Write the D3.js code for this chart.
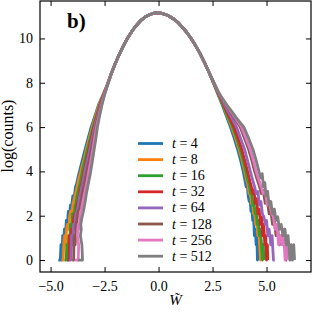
<!DOCTYPE html>
<html>
<head>
<meta charset="utf-8">
<script src="https://cdn.jsdelivr.net/npm/d3@7"></script>
<style>
  body { margin: 0; background: #fff; }
  svg { display: block; font-family: "Liberation Serif", serif; }
</style>
</head>
<body>
<script>
// series labels (t) and colours
const times = [4, 8, 16, 32, 64, 128, 256, 512];
const colors = ["#1f77b4", "#ff7f0e", "#2ca02c", "#d62728", "#9467bd", "#8c564b", "#e377c2", "#7f7f7f"];

// top of the distribution, all series lie on top of each other here  [W, log(counts)]
const core = [[-2.2,8.38],[-2.0,8.88],[-1.8,9.32],[-1.6,9.72],[-1.4,10.07],[-1.2,10.37],
  [-1.0,10.62],[-0.8,10.83],[-0.6,10.98],[-0.4,11.08],[-0.2,11.14],[-0.07,11.15],[0.1,11.14],
  [0.3,11.09],[0.5,11.0],[0.7,10.88],[0.9,10.72],[1.1,10.51],[1.3,10.28],[1.5,10.01],[1.7,9.70],
  [1.9,9.36],[2.1,8.97],[2.3,8.55]];

// left tails, one per series
const leftTails = [
  [[-4.64,0],[-4.55,0],[-4.52,0.69],[-4.47,0],[-4.44,1.1],[-4.4,0.69],[-4.36,1.39],[-4.31,1.1],[-4.27,1.79],[-4.22,1.61],[-4.18,2.2],[-4.13,1.95],[-4.08,2.48],[-4.03,2.4],[-3.97,2.89],[-3.91,2.77],[-3.85,3.3],[-3.79,3.45],[-3.72,3.78],[-3.66,4.0],[-3.57,4.35],[-3.48,4.7],[-3.4,5.0],[-3.29,5.4],[-3.12,6.0],[-2.95,6.5],[-2.78,7.0],[-2.58,7.45],[-2.4,7.84]],
  [[-4.5,0],[-4.42,0],[-4.39,0.69],[-4.35,1.1],[-4.3,0.69],[-4.26,1.39],[-4.21,1.61],[-4.16,1.39],[-4.12,1.95],[-4.07,2.2],[-4.02,2.08],[-3.96,2.56],[-3.9,2.77],[-3.84,3.0],[-3.77,3.3],[-3.69,3.66],[-3.6,4.0],[-3.47,4.48],[-3.34,5.0],[-3.21,5.5],[-3.07,6.0],[-2.92,6.5],[-2.76,7.0],[-2.57,7.45],[-2.4,7.86]],
  [[-4.36,0],[-4.28,0],[-4.25,0.69],[-4.2,0],[-4.16,1.1],[-4.12,0.69],[-4.08,1.61],[-4.03,1.39],[-3.99,2.08],[-3.93,1.95],[-3.87,2.4],[-3.82,2.64],[-3.75,3.0],[-3.69,3.26],[-3.61,3.6],[-3.53,4.0],[-3.41,4.5],[-3.29,5.0],[-3.16,5.5],[-3.03,6.0],[-2.88,6.5],[-2.73,7.0],[-2.55,7.45],[-2.39,7.87]],
  [[-4.23,0],[-4.15,0],[-4.12,1.1],[-4.07,0.69],[-4.03,1.39],[-3.98,1.1],[-3.94,1.79],[-3.88,2.08],[-3.83,1.95],[-3.78,2.48],[-3.71,2.71],[-3.65,3.09],[-3.57,3.4],[-3.45,4.0],[-3.34,4.5],[-3.22,5.0],[-3.11,5.5],[-2.99,6.0],[-2.85,6.5],[-2.71,7.0],[-2.54,7.46],[-2.38,7.88]],
  [[-4.14,0],[-4.06,0],[-4.03,1.1],[-3.98,0.69],[-3.94,1.61],[-3.89,1.39],[-3.84,2.0],[-3.78,2.2],[-3.73,2.4],[-3.67,2.77],[-3.61,3.04],[-3.53,3.4],[-3.41,4.0],[-3.3,4.5],[-3.18,5.0],[-3.07,5.5],[-2.96,6.0],[-2.83,6.5],[-2.69,7.0],[-2.53,7.46],[-2.38,7.88]],
  [[-4.0,0],[-3.93,0],[-3.91,1.1],[-3.86,0.69],[-3.82,1.61],[-3.77,1.79],[-3.72,2.2],[-3.66,2.3],[-3.59,2.64],[-3.53,3.0],[-3.44,3.4],[-3.32,4.0],[-3.21,4.5],[-3.11,5.0],[-3.01,5.5],[-2.91,6.0],[-2.79,6.5],[-2.67,7.0],[-2.52,7.46],[-2.37,7.89]],
  [[-3.88,0],[-3.72,0],[-3.7,0.69],[-3.76,1.1],[-3.72,1.61],[-3.68,1.39],[-3.63,2.08],[-3.57,2.3],[-3.5,2.64],[-3.43,3.0],[-3.34,3.4],[-3.23,4.0],[-3.13,4.5],[-3.04,5.0],[-2.96,5.5],[-2.87,6.0],[-2.76,6.5],[-2.64,7.0],[-2.51,7.46],[-2.37,7.9]],
  [[-3.74,0],[-3.52,0],[-3.55,0.69],[-3.62,1.1],[-3.58,1.39],[-3.6,1.61],[-3.54,1.95],[-3.48,2.2],[-3.41,2.56],[-3.34,3.0],[-3.24,3.5],[-3.14,4.0],[-3.06,4.5],[-2.98,5.0],[-2.9,5.5],[-2.83,6.0],[-2.73,6.5],[-2.62,7.0],[-2.5,7.45],[-2.36,7.9]]
];

// right tails, one per series
const rightTails = [
  [[2.5,8.09],[2.7,7.6],[2.95,7.0],[3.14,6.5],[3.33,6.0],[3.5,5.5],[3.66,5.0],[3.8,4.5],[3.92,4.0],[4.0,3.6],[4.06,3.3],[4.11,3.4],[4.15,2.89],[4.2,2.64],[4.24,2.77],[4.28,2.2],[4.32,2.3],[4.36,1.79],[4.4,1.95],[4.44,1.1],[4.48,1.39],[4.52,0.69],[4.55,1.1],[4.58,0],[4.6,0.69],[4.62,0]],
  [[2.5,8.09],[2.71,7.6],[2.98,7.0],[3.18,6.5],[3.39,6.0],[3.57,5.5],[3.73,5.0],[3.87,4.5],[3.99,4.0],[4.08,3.6],[4.14,3.4],[4.2,3.0],[4.25,3.14],[4.3,2.56],[4.35,2.71],[4.4,2.08],[4.45,2.2],[4.5,1.61],[4.55,1.79],[4.6,1.1],[4.64,1.39],[4.68,0.69],[4.72,0],[4.76,0.69],[4.79,0]],
  [[2.5,8.09],[2.72,7.6],[2.99,7.0],[3.21,6.5],[3.44,6.0],[3.62,5.5],[3.78,5.0],[3.92,4.5],[4.04,4.0],[4.13,3.6],[4.2,3.4],[4.26,3.0],[4.31,3.09],[4.37,2.48],[4.42,2.64],[4.47,2.08],[4.52,2.2],[4.57,1.61],[4.62,1.79],[4.67,1.1],[4.72,1.39],[4.77,0.69],[4.81,0],[4.85,0.69],[4.88,0]],
  [[2.51,8.09],[2.73,7.6],[3.02,7.0],[3.26,6.5],[3.5,6.0],[3.68,5.5],[3.85,5.0],[3.99,4.5],[4.12,4.0],[4.22,3.6],[4.3,3.3],[4.36,3.0],[4.42,3.18],[4.48,2.56],[4.54,2.77],[4.6,2.08],[4.66,2.3],[4.72,1.61],[4.77,1.95],[4.82,1.1],[4.87,1.61],[4.92,0.69],[4.96,1.1],[5.0,0],[5.04,0.69],[5.06,0]],
  [[2.51,8.09],[2.74,7.6],[3.06,7.0],[3.34,6.5],[3.61,6.0],[3.8,5.5],[3.98,5.0],[4.12,4.5],[4.25,4.0],[4.36,3.6],[4.45,3.3],[4.52,3.0],[4.6,3.09],[4.67,2.48],[4.74,2.64],[4.81,2.08],[4.88,1.95],[4.94,1.61],[5.0,1.79],[5.06,1.1],[5.12,1.39],[5.2,0.69],[5.26,1.1],[5.32,0],[5.38,0]],
  [[2.52,8.1],[2.75,7.6],[2.97,7.22],[3.13,6.98],[3.45,6.5],[3.78,6.0],[3.98,5.5],[4.17,5.0],[4.32,4.5],[4.45,4.0],[4.58,3.6],[4.68,3.3],[4.76,3.0],[4.85,3.14],[4.94,2.56],[5.03,2.77],[5.12,2.08],[5.2,2.2],[5.28,1.61],[5.36,1.79],[5.44,1.1],[5.52,1.39],[5.6,0.69],[5.68,1.1],[5.76,0.69],[5.85,1.39],[5.9,0],[5.95,0]],
  [[2.52,8.1],[2.76,7.6],[2.98,7.25],[3.16,6.98],[3.5,6.5],[3.84,6.0],[4.05,5.5],[4.24,5.0],[4.39,4.5],[4.52,4.0],[4.65,3.6],[4.76,3.3],[4.84,3.0],[4.94,3.09],[5.04,2.48],[5.14,2.64],[5.24,2.08],[5.32,1.95],[5.4,1.39],[5.48,1.61],[5.56,0.69],[5.64,1.1],[5.72,0.69],[5.8,1.1],[5.86,0],[5.92,1.1],[5.96,0]],
  [[2.52,8.1],[2.76,7.6],[2.98,7.25],[3.2,6.95],[3.4,6.7],[3.58,6.45],[3.95,6.0],[4.17,5.5],[4.37,5.0],[4.52,4.5],[4.65,4.0],[4.74,3.7],[4.8,3.9],[4.86,3.3],[4.92,3.5],[4.98,2.9],[5.05,3.1],[5.12,2.48],[5.2,2.64],[5.28,2.08],[5.36,2.3],[5.44,1.79],[5.52,1.95],[5.6,1.39],[5.68,1.61],[5.76,1.1],[5.84,1.39],[5.92,0.69],[6.0,1.1],[6.08,0],[6.14,0.69],[6.2,0],[6.26,0.69],[6.3,0]]
];

const xTicks = [-5, -2.5, 0, 2.5, 5];
const yTicks = [0, 2, 4, 6, 8, 10];

const chartWidth = 312, chartHeight = 312;
const plotLeft = 40, plotRight = 311, plotTop = 1, plotBottom = 272;

let svg = d3.select("body").append("svg")
    .attr("width", chartWidth)
    .attr("height", chartHeight);

let x = d3.scaleLinear().domain([-5.49, 7.06]).range([plotLeft, plotRight]);
let y = d3.scaleLinear().domain([-0.54, 11.69]).range([plotBottom, plotTop]);

let fmt = d => d3.format(".1f")(d).replace("-", "\u2212");

// axes, ticks pointing inwards on all four sides
svg.append("g").attr("transform", `translate(0,${plotBottom})`)
    .call(d3.axisBottom(x).tickValues(xTicks).tickSizeInner(-5).tickSizeOuter(0).tickPadding(9).tickFormat(fmt));
svg.append("g").attr("transform", `translate(0,${plotTop})`)
    .call(d3.axisTop(x).tickValues(xTicks).tickSizeInner(-5).tickSizeOuter(0).tickFormat(""));
svg.append("g").attr("transform", `translate(${plotLeft},0)`)
    .call(d3.axisLeft(y).tickValues(yTicks).tickSizeInner(-5).tickSizeOuter(0).tickPadding(7).tickFormat(d3.format("d")));
svg.append("g").attr("transform", `translate(${plotRight},0)`)
    .call(d3.axisRight(y).tickValues(yTicks).tickSizeInner(-5).tickSizeOuter(0).tickFormat(""));

svg.selectAll(".domain").remove();
svg.selectAll("g").attr("font-family", null);
svg.selectAll(".tick line").attr("stroke", "#000").attr("stroke-width", 1);
svg.selectAll(".tick text")
    .attr("font-size", 14)
    .attr("fill", "#000");

// curves
let line = d3.line().x(d => x(d[0])).y(d => y(d[1]));

svg.append("g").selectAll("path")
    .data(times)
    .enter()
    .append("path")
    .attr("d", (t, i) => line(leftTails[i].concat(core, rightTails[i])))
    .attr("fill", "none")
    .attr("stroke", (t, i) => colors[i])
    .attr("stroke-width", 2.8)
    .attr("stroke-linejoin", "round");

// frame
svg.append("rect")
    .attr("x", plotLeft).attr("y", plotTop)
    .attr("width", plotRight - plotLeft).attr("height", plotBottom - plotTop)
    .attr("fill", "none")
    .attr("stroke", "#000")
    .attr("stroke-width", 1.2);

// legend
let legend = svg.append("g").selectAll("g")
    .data(times)
    .enter()
    .append("g")
    .attr("transform", (t, i) => `translate(138,${143.5 + i * 16.1})`);

legend.append("line")
    .attr("x1", 0).attr("x2", 25)
    .attr("stroke", (t, i) => colors[i])
    .attr("stroke-width", 2.8);

let lt = legend.append("text")
    .attr("x", 34)
    .attr("y", 4.5)
    .attr("font-size", 14);
lt.append("tspan").attr("font-style", "italic").text("t");
lt.append("tspan").text(t => " = " + t);

// labels
svg.append("text")
    .attr("x", 67).attr("y", 28)
    .attr("font-size", 21)
    .attr("font-weight", "bold")
    .text("b)");

svg.append("text")
    .attr("transform", "translate(13,136) rotate(-90)")
    .attr("text-anchor", "middle")
    .attr("font-size", 16)
    .text("log(counts)");

svg.append("text")
    .attr("x", 175.5).attr("y", 305)
    .attr("text-anchor", "middle")
    .attr("font-size", 15)
    .attr("font-style", "italic")
    .text("W\u0303");
</script>
</body>
</html>
